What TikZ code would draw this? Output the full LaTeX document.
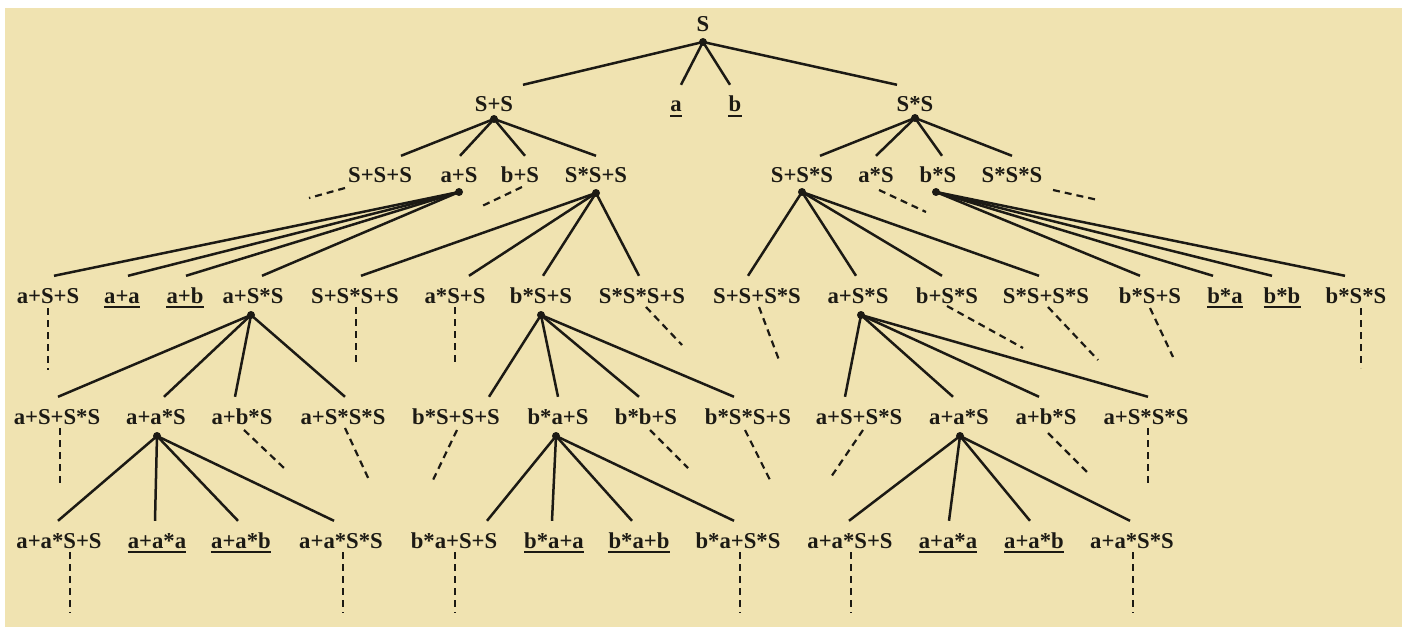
\documentclass[tikz,border=0pt]{standalone}
\usepackage{fontspec}
\setmainfont{Liberation Serif}
\definecolor{bg}{HTML}{F0E3B1}
\definecolor{ink}{HTML}{1C1A14}
\newcommand\edg[3]{\draw[edge] (#1.center) -- ([xshift=#3pt]#2.north);}
\newcommand\dsh[5]{\draw[dashln] ([shift={(#2pt,-#3pt)}]#1.base) -- ++(#4,#5);}
\newcommand\uln[1]{\draw[ulin] ([yshift=-4pt]#1.base west) -- ([yshift=-4pt]#1.base east);}
\begin{document}
\begin{tikzpicture}[x=1pt,y=-1pt,
 lbl/.style={anchor=base, inner xsep=0pt, inner ysep=12pt, text height=15pt, text depth=0pt,
   font=\fontsize{22.7}{24}\selectfont\bfseries, text=ink},
 dotn/.style={circle, fill=ink, inner sep=0pt, minimum size=8pt},
 edge/.style={draw=ink, line width=2.5pt},
 dashln/.style={draw=ink, line width=2.2pt, dash pattern=on 7pt off 5pt},
 ulin/.style={draw=ink, line width=2pt}]
\useasboundingbox (0,0) rectangle (1407,628);
\fill[white] (0,0) rectangle (1407,628);
\fill[bg] (5,8) rectangle (1402,627);
% level 0
\node[lbl] (r) at (703,32) {S};
% level 1
\node[lbl] (s1) at (494,112) {S+S};
\node[lbl] (a1) at (676,112) {a};
\node[lbl] (b1) at (735,112) {b};
\node[lbl] (t1) at (915,112) {S*S};
% level 2
\node[lbl] (p1) at (380,183) {S+S+S};
\node[lbl] (p2) at (459,183) {a+S};
\node[lbl] (p3) at (520,183) {b+S};
\node[lbl] (p4) at (596,183) {S*S+S};
\node[lbl] (q1) at (802,183) {S+S*S};
\node[lbl] (q2) at (876,183) {a*S};
\node[lbl] (q3) at (938,183) {b*S};
\node[lbl] (q4) at (1012,183) {S*S*S};
% level 3
\node[lbl] (c1) at (48,303) {a+S+S};
\node[lbl] (c2) at (122,303) {a+a};
\node[lbl] (c3) at (185,303) {a+b};
\node[lbl] (c4) at (253,303) {a+S*S};
\node[lbl] (c5) at (355,303) {S+S*S+S};
\node[lbl] (c6) at (455,303) {a*S+S};
\node[lbl] (c7) at (541,303) {b*S+S};
\node[lbl] (c8) at (642,303) {S*S*S+S};
\node[lbl] (c9) at (757,303) {S+S+S*S};
\node[lbl] (c10) at (858,303) {a+S*S};
\node[lbl] (c11) at (947,303) {b+S*S};
\node[lbl] (c12) at (1046,303) {S*S+S*S};
\node[lbl] (c13) at (1150,303) {b*S+S};
\node[lbl] (c14) at (1225,303) {b*a};
\node[lbl] (c15) at (1282,303) {b*b};
\node[lbl] (c16) at (1356,303) {b*S*S};
% level 4
\node[lbl] (e1) at (57,424) {a+S+S*S};
\node[lbl] (e2) at (156,424) {a+a*S};
\node[lbl] (e3) at (242,424) {a+b*S};
\node[lbl] (e4) at (343,424) {a+S*S*S};
\node[lbl] (e5) at (456,424) {b*S+S+S};
\node[lbl] (e6) at (558,424) {b*a+S};
\node[lbl] (e7) at (646,424) {b*b+S};
\node[lbl] (e8) at (748,424) {b*S*S+S};
\node[lbl] (e9) at (859,424) {a+S+S*S};
\node[lbl] (e10) at (959,424) {a+a*S};
\node[lbl] (e11) at (1046,424) {a+b*S};
\node[lbl] (e12) at (1146,424) {a+S*S*S};
% level 5
\node[lbl] (f1) at (59,548) {a+a*S+S};
\node[lbl] (f2) at (157,548) {a+a*a};
\node[lbl] (f3) at (241,548) {a+a*b};
\node[lbl] (f4) at (341,548) {a+a*S*S};
\node[lbl] (f5) at (454,548) {b*a+S+S};
\node[lbl] (f6) at (554,548) {b*a+a};
\node[lbl] (f7) at (639,548) {b*a+b};
\node[lbl] (f8) at (738,548) {b*a+S*S};
\node[lbl] (f9) at (850,548) {a+a*S+S};
\node[lbl] (f10) at (948,548) {a+a*a};
\node[lbl] (f11) at (1034,548) {a+a*b};
\node[lbl] (f12) at (1132,548) {a+a*S*S};
% underlines
\foreach \n in {a1,b1,c2,c3,c14,c15,f2,f3,f6,f7,f10,f11}{\uln{\n}}
% dots
\node[dotn] (dr) at ([yshift=-10pt]r.base) {};
\node[dotn] (ds1) at ([yshift=-7pt]s1.base) {};
\node[dotn] (dt1) at ([yshift=-6pt]t1.base) {};
\node[dotn] (dp2) at ([yshift=-9pt]p2.base) {};
\node[dotn] (dp4) at ([yshift=-10pt]p4.base) {};
\node[dotn] (dq1) at ([yshift=-9pt]q1.base) {};
\node[dotn] (dq3) at ([shift={(-2pt,-9pt)}]q3.base) {};
\node[dotn] (dc4) at ([shift={(-2pt,-12pt)}]c4.base) {};
\node[dotn] (dc7) at ([yshift=-12pt]c7.base) {};
\node[dotn] (dc10) at ([shift={(3pt,-12pt)}]c10.base) {};
\node[dotn] (de2) at ([shift={(1pt,-12pt)}]e2.base) {};
\node[dotn] (de6) at ([shift={(-2pt,-12pt)}]e6.base) {};
\node[dotn] (de10) at ([shift={(1pt,-12pt)}]e10.base) {};
% edges
\edg{dr}{s1}{29}\edg{dr}{a1}{5}\edg{dr}{b1}{-5}\edg{dr}{t1}{-18}
\edg{ds1}{p1}{21}\edg{ds1}{p2}{1}\edg{ds1}{p3}{5}\edg{ds1}{p4}{0}
\edg{dt1}{q1}{18}\edg{dt1}{q2}{0}\edg{dt1}{q3}{4}\edg{dt1}{q4}{0}
\edg{dp2}{c1}{6}\edg{dp2}{c2}{6}\edg{dp2}{c3}{1}\edg{dp2}{c4}{9}
\edg{dp4}{c5}{6}\edg{dp4}{c6}{14}\edg{dp4}{c7}{2}\edg{dp4}{c8}{-3}
\edg{dq1}{c9}{-9}\edg{dq1}{c10}{-2}\edg{dq1}{c11}{-5}\edg{dq1}{c12}{-7}
\edg{dq3}{c13}{-10}\edg{dq3}{c14}{-12}\edg{dq3}{c15}{-10}\edg{dq3}{c16}{-11}
\edg{dc4}{e1}{1}\edg{dc4}{e2}{8}\edg{dc4}{e3}{-7}\edg{dc4}{e4}{2}
\edg{dc7}{e5}{33}\edg{dc7}{e6}{0}\edg{dc7}{e7}{-7}\edg{dc7}{e8}{-14}
\edg{dc10}{e9}{-14}\edg{dc10}{e10}{-6}\edg{dc10}{e11}{-7}\edg{dc10}{e12}{2}
\edg{de2}{f1}{-1}\edg{de2}{f2}{-2}\edg{de2}{f3}{-3}\edg{de2}{f4}{-7}
\edg{de6}{f5}{33}\edg{de6}{f6}{-2}\edg{de6}{f7}{-7}\edg{de6}{f8}{-4}
\edg{de10}{f9}{-1}\edg{de10}{f10}{1}\edg{de10}{f11}{-4}\edg{de10}{f12}{-2}
% dashed continuations
\dsh{p1}{-35}{5}{-36}{10}
\dsh{p3}{2}{4}{-42}{20}
\dsh{q2}{3}{7}{47}{22}
\dsh{q4}{41}{7}{45}{10}
\dsh{c1}{0}{5}{0}{62}
\dsh{c5}{1}{4}{0}{56}
\dsh{c6}{0}{4}{0}{60}
\dsh{c8}{4}{4}{36}{38}
\dsh{c9}{2}{4}{20}{53}
\dsh{c11}{0}{3}{76}{42}
\dsh{c12}{2}{4}{50}{53}
\dsh{c13}{0}{5}{23}{49}
\dsh{c16}{5}{5}{0}{60}
\dsh{e1}{3}{4}{0}{59}
\dsh{e3}{2}{6}{40}{38}
\dsh{e4}{2}{4}{25}{54}
\dsh{e5}{1}{6}{-24}{50}
\dsh{e7}{4}{6}{38}{38}
\dsh{e8}{-3}{6}{25}{50}
\dsh{e9}{4}{6}{-32}{47}
\dsh{e11}{2}{9}{39}{39}
\dsh{e12}{2}{4}{0}{59}
\dsh{f1}{11}{4}{0}{61}
\dsh{f4}{2}{4}{0}{61}
\dsh{f5}{1}{4}{0}{61}
\dsh{f8}{2}{4}{0}{61}
\dsh{f9}{1}{4}{0}{61}
\dsh{f12}{1}{4}{0}{61}
\end{tikzpicture}
\end{document}
